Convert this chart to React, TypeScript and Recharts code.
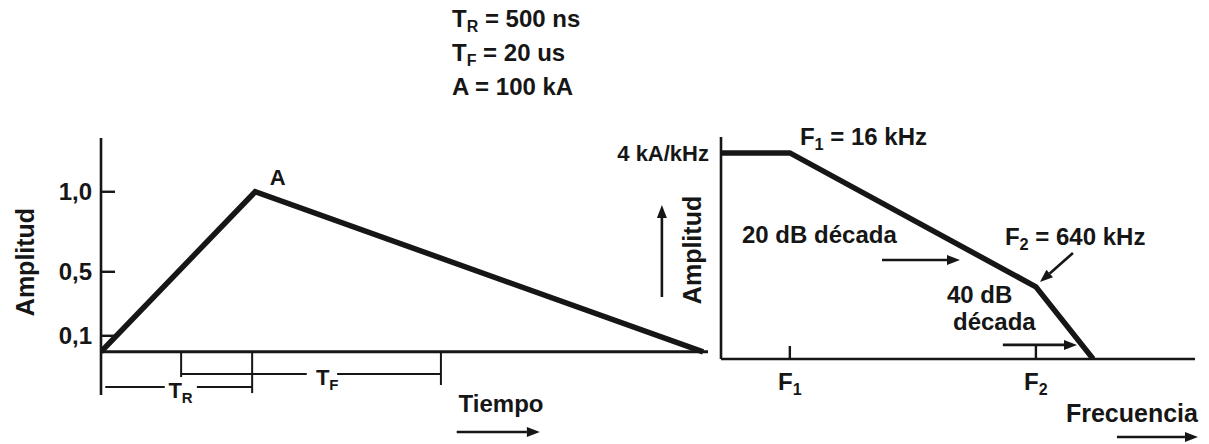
import React from 'react'
import { LineChart, Line, XAxis, YAxis, ReferenceLine, ReferenceDot } from 'recharts'

// Impulso en el tiempo (unidades del dibujo, amplitud normalizada)
const pulseTime = [0, 25.4, 99.2]
const pulseAmp = [0, 1.0, 0]
const ampTicks = [0.1, 0.5, 1.0]

// Espectro: frecuencia en kHz, amplitud en kA/kHz
const specFreq = [5.7, 16, 640, 1510]
const specAmp = [4, 4, 0.1, 0.0137]
const freqTicks = [16, 640]
const freqTickSubs = ['1', '2']
const specAmpTicks = [4]

// Parámetros del impulso
const paramMain = ['T', 'T', 'A']
const paramSub = ['R', 'F', '']
const paramRest = [' = 500 ns', ' = 20 us', ' = 100 kA']

const pulseData = pulseTime.map((t, i) => ({ t, a: pulseAmp[i] }))
const specData = specFreq.map((f, i) => ({ f, a: specAmp[i] }))

const INK = '#161616'
const FONT = '"Liberation Sans", Arial, Helvetica, sans-serif'

type Anchor = 'start' | 'middle' | 'end'

const txt = (main: string, sub = '', rest = '', size = 24, anchor: Anchor = 'start', rotate = 0) =>
  (p: any) => (
    <text
      x={p.cx}
      y={p.cy}
      fontFamily={FONT}
      fontWeight="bold"
      fontSize={size}
      fill={INK}
      textAnchor={anchor}
      dominantBaseline={rotate ? 'central' : undefined}
      transform={rotate ? `rotate(${rotate} ${p.cx} ${p.cy})` : undefined}
    >
      {main}
      {sub && <tspan fontSize={size * 0.68} dy={size * 0.22}>{sub}</tspan>}
      {rest && <tspan dy={sub ? -size * 0.22 : 0}>{rest}</tspan>}
    </text>
  )

const Arrow = (p: any) => {
  const { x1, y1, x2, y2 } = p
  const ang = Math.atan2(y2 - y1, x2 - x1)
  const c = Math.cos(ang)
  const s = Math.sin(ang)
  const bx = x2 - 13 * c
  const by = y2 - 13 * s
  return (
    <g>
      <line x1={x1} y1={y1} x2={bx} y2={by} stroke={INK} strokeWidth={2.6} />
      <polygon
        points={`${x2},${y2} ${bx - 5 * s},${by + 5 * c} ${bx + 5 * s},${by - 5 * c}`}
        fill={INK}
      />
    </g>
  )
}

const FreqTick = (p: any) => {
  const i = freqTicks.indexOf(p.payload.value)
  return (
    <text x={p.x} y={p.y} textAnchor="middle" fontFamily={FONT} fontWeight="bold" fontSize={24} fill={INK}>
      F<tspan fontSize={16} dy={5}>{freqTickSubs[i]}</tspan>
    </text>
  )
}

const dim = { stroke: INK, strokeWidth: 2 }

export default function App() {
  return (
    <div style={{ position: 'absolute', left: 0, top: 0, width: 1209, height: 444, background: '#fff', overflow: 'hidden' }}>
      <div
        style={{
          position: 'absolute', left: 452, top: 3, fontFamily: FONT, fontWeight: 'bold',
          fontSize: 24, lineHeight: '31px', color: INK, whiteSpace: 'pre',
        }}
      >
        {paramMain.map((m, i) => (
          <div key={i}>
            {m}
            {paramSub[i] && <span style={{ fontSize: 16, position: 'relative', top: 5 }}>{paramSub[i]}</span>}
            {paramRest[i]}
          </div>
        ))}
      </div>

      <div style={{ position: 'absolute', left: 0, top: 0 }}>
        <LineChart width={720} height={444} data={pulseData} margin={{ top: 138, right: 12, bottom: 49, left: 0 }}>
          <XAxis type="number" dataKey="t" domain={[0, 100]} hide allowDataOverflow />
          <YAxis
            type="number"
            domain={[-0.27, 1.336]}
            allowDataOverflow
            ticks={ampTicks}
            interval={0}
            width={101}
            axisLine={{ stroke: INK, strokeWidth: 2.6 }}
            tickLine={{ stroke: INK, strokeWidth: 2.4 }}
            tickSize={-14}
            tickMargin={23}
            tick={{ fill: INK, fontSize: 24, fontWeight: 'bold', fontFamily: FONT }}
            tickFormatter={(v: number) => v.toFixed(1).replace('.', ',')}
          />
          <ReferenceLine y={0} stroke={INK} strokeWidth={3} />

          {/* cotas T_R y T_F */}
          <ReferenceLine segment={[{ x: 13.2, y: 0 }, { x: 13.2, y: -0.158 }]} {...dim} />
          <ReferenceLine segment={[{ x: 24.9, y: 0 }, { x: 24.9, y: -0.258 }]} {...dim} />
          <ReferenceLine segment={[{ x: 56.0, y: 0 }, { x: 56.0, y: -0.2075 }]} {...dim} />
          <ReferenceLine segment={[{ x: 13.2, y: -0.139 }, { x: 33.9, y: -0.139 }]} {...dim} />
          <ReferenceLine segment={[{ x: 38.9, y: -0.139 }, { x: 56.0, y: -0.139 }]} {...dim} />
          <ReferenceLine segment={[{ x: 0.7, y: -0.22 }, { x: 10.5, y: -0.22 }]} {...dim} />
          <ReferenceLine segment={[{ x: 15.8, y: -0.22 }, { x: 24.9, y: -0.22 }]} {...dim} />
          <ReferenceDot x={35.4} y={-0.21} r={0} ifOverflow="visible" shape={txt('T', 'F', '', 22)} />
          <ReferenceDot x={11.1} y={-0.287} r={0} ifOverflow="visible" shape={txt('T', 'R', '', 22)} />

          <ReferenceDot x={27.8} y={1.0425} r={0} shape={txt('A', '', '', 22)} />
          <ReferenceDot x={65.9} y={-0.376} r={0} ifOverflow="visible" shape={txt('Tiempo', '', '', 24, 'middle')} />
          <ReferenceLine
            segment={[{ x: 58.6, y: -0.501 }, { x: 72.3, y: -0.501 }]}
            ifOverflow="visible"
            shape={Arrow}
          />
          <ReferenceDot x={-12.52} y={0.561} r={0} ifOverflow="visible" shape={txt('Amplitud', '', '', 25, 'middle', -90)} />

          <Line
            dataKey="a"
            type="linear"
            stroke={INK}
            strokeWidth={5.5}
            strokeLinejoin="miter"
            dot={false}
            activeDot={false}
            isAnimationActive={false}
          />
        </LineChart>
      </div>

      <div style={{ position: 'absolute', left: 600, top: 0 }}>
        <LineChart width={609} height={444} data={specData} margin={{ top: 137, right: 14, bottom: 0, left: 0 }}>
          <XAxis
            type="number"
            dataKey="f"
            scale="log"
            domain={[5.7, 6950]}
            allowDataOverflow
            ticks={freqTicks}
            interval={0}
            height={85}
            axisLine={{ stroke: INK, strokeWidth: 2.6 }}
            tickLine={{ stroke: INK, strokeWidth: 2.4 }}
            tickSize={-13}
            tickMargin={44}
            tick={<FreqTick />}
          />
          <YAxis
            type="number"
            scale="log"
            domain={[0.0137, 6.2]}
            allowDataOverflow
            ticks={specAmpTicks}
            interval={0}
            width={121}
            axisLine={{ stroke: INK, strokeWidth: 2.6 }}
            tickLine={false}
            tickMargin={6}
            tick={{ fill: INK, fontSize: 22, fontWeight: 'bold', fontFamily: FONT }}
            tickFormatter={(v: number) => `${v} kA/kHz`}
          />

          <ReferenceDot x={18.6} y={4.98} r={0} shape={txt('F', '1', ' = 16 kHz', 24)} />
          <ReferenceDot x={7.81} y={0.3346} r={0} shape={txt('20 dB década', '', '', 24)} />
          <ReferenceLine segment={[{ x: 63.7, y: 0.2095 }, { x: 205, y: 0.2095 }]} shape={Arrow} />
          <ReferenceDot x={402} y={0.3166} r={0} shape={txt('F', '2', ' = 640 kHz', 24)} />
          <ReferenceLine segment={[{ x: 1115, y: 0.254 }, { x: 680, y: 0.1143 }]} shape={Arrow} />
          <ReferenceDot x={168.7} y={0.0641} r={0} shape={txt('40 dB', '', '', 24)} />
          <ReferenceDot x={184.6} y={0.0305} r={0} shape={txt('década', '', '', 24)} />
          <ReferenceLine segment={[{ x: 390, y: 0.0202 }, { x: 1185, y: 0.0202 }]} shape={Arrow} />

          <ReferenceDot x={7268} y={0.002417} r={0} ifOverflow="visible" shape={txt('Frecuencia', '', '', 25, 'end')} />
          <ReferenceLine
            segment={[{ x: 2157, y: 0.0016 }, { x: 7268, y: 0.0016 }]}
            ifOverflow="visible"
            shape={Arrow}
          />
          <ReferenceDot x={3.69} y={0.276} r={0} ifOverflow="visible" shape={txt('Amplitud', '', '', 25, 'middle', -90)} />
          <ReferenceLine
            segment={[{ x: 2.35, y: 0.0756 }, { x: 2.35, y: 0.953 }]}
            ifOverflow="visible"
            shape={Arrow}
          />

          <Line
            dataKey="a"
            type="linear"
            stroke={INK}
            strokeWidth={5.5}
            strokeLinejoin="miter"
            dot={false}
            activeDot={false}
            isAnimationActive={false}
          />
        </LineChart>
      </div>
    </div>
  )
}
